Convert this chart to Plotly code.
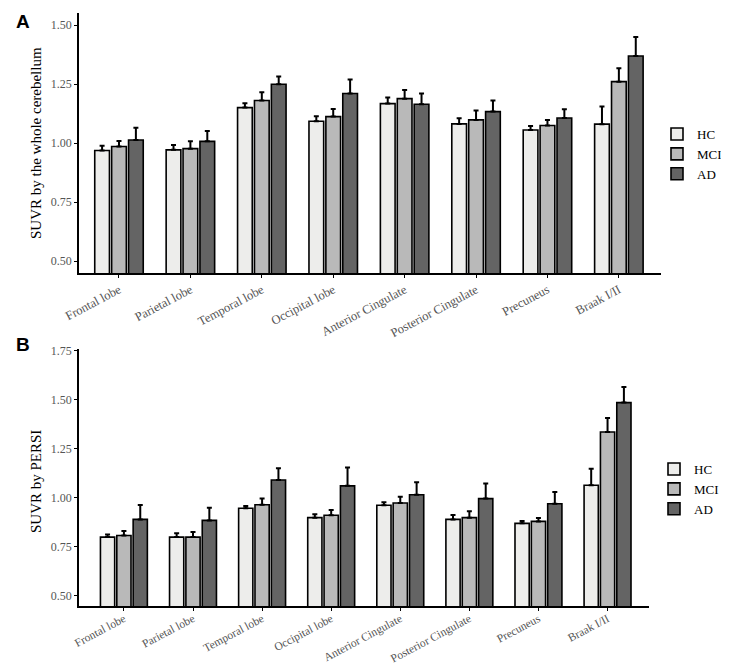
import plotly.graph_objects as go

categories = ["Frontal lobe", "Parietal lobe", "Temporal lobe", "Occipital lobe",
              "Anterior Cingulate", "Posterior Cingulate", "Precuneus", "Braak I/II"]
groups = ["HC", "MCI", "AD"]

# Panel A: SUVR by the whole cerebellum (mean, upper SE)
hc_a = [0.969, 0.972, 1.151, 1.093, 1.168, 1.082, 1.056, 1.081]
mci_a = [0.986, 0.977, 1.181, 1.113, 1.189, 1.099, 1.075, 1.261]
ad_a = [1.014, 1.008, 1.250, 1.211, 1.165, 1.134, 1.107, 1.370]
hc_a_err = [0.020, 0.021, 0.018, 0.021, 0.026, 0.024, 0.017, 0.075]
mci_a_err = [0.024, 0.031, 0.035, 0.032, 0.037, 0.040, 0.024, 0.057]
ad_a_err = [0.052, 0.044, 0.033, 0.059, 0.046, 0.047, 0.037, 0.080]

# Panel B: SUVR by PERSI
hc_b = [0.799, 0.799, 0.946, 0.898, 0.961, 0.889, 0.869, 1.063]
mci_b = [0.807, 0.799, 0.964, 0.910, 0.973, 0.898, 0.879, 1.334]
ad_b = [0.889, 0.884, 1.090, 1.060, 1.015, 0.995, 0.969, 1.484]
hc_b_err = [0.013, 0.019, 0.011, 0.017, 0.015, 0.023, 0.012, 0.084]
mci_b_err = [0.023, 0.026, 0.031, 0.027, 0.031, 0.032, 0.017, 0.071]
ad_b_err = [0.074, 0.065, 0.060, 0.093, 0.063, 0.077, 0.060, 0.080]

ticks_a = [0.50, 0.75, 1.00, 1.25, 1.50]
ticks_b = [0.50, 0.75, 1.00, 1.25, 1.50, 1.75]

colors = {"HC": "#EDEDEB", "MCI": "#B9B9B9", "AD": "#646464"}

W, H = 729, 665
SERIF = "Liberation Serif, Times New Roman, serif"

fig = go.Figure()

def add_panel(vals, errs, xa, ya, legend):
    for g, v, e in zip(groups, vals, errs):
        fig.add_trace(go.Bar(
            x=list(range(len(categories))), y=v, name=g,
            xaxis=xa, yaxis=ya, legend=legend,
            marker=dict(color=colors[g], line=dict(color="black", width=1.6)),
            error_y=dict(type="data", array=e, arrayminus=[0] * len(e), symmetric=False,
                         color="black", thickness=2, width=2.5),
        ))

add_panel([hc_a, mci_a, ad_a], [hc_a_err, mci_a_err, ad_a_err], "x", "y", "legend")
add_panel([hc_b, mci_b, ad_b], [hc_b_err, mci_b_err, ad_b_err], "x2", "y2", "legend2")

def px_x(p):
    return p / W

def px_y(p):
    return 1 - p / H

xcommon = dict(
    tickmode="array", tickvals=list(range(len(categories))), ticktext=categories,
    tickangle=-28,
    showline=True, linecolor="black", linewidth=1.6, ticks="outside", ticklen=3,
    tickcolor="black", tickwidth=1.2, showgrid=False, zeroline=False, automargin=False,
)
ycommon = dict(
    tickformat=".2f", tickfont=dict(family=SERIF, size=12, color="#555555"),
    showline=True, linecolor="black", linewidth=1.6, ticks="outside", ticklen=3,
    tickcolor="black", tickwidth=1.2, showgrid=False, zeroline=False, automargin=False,
)

def ann(text, x, y, size, angle=0, bold=False, family=SERIF):
    return dict(text=f"<b>{text}</b>" if bold else text, x=px_x(x), y=px_y(y),
                xref="paper", yref="paper", xanchor="center", yanchor="middle",
                showarrow=False, textangle=angle,
                font=dict(family=family, size=size, color="black"))

fig.update_layout(
    width=W, height=H,
    margin=dict(l=0, r=0, t=0, b=0, autoexpand=False),
    paper_bgcolor="white", plot_bgcolor="white",
    barmode="group", bargap=0.29, bargroupgap=0.13,
    xaxis=dict(domain=[px_x(71), px_x(653)], range=[-0.56, 7.59], anchor="y",
               tickfont=dict(family=SERIF, size=12.5, color="#555555"), **xcommon),
    yaxis=dict(domain=[px_y(265), px_y(5)], range=[0.45, 1.552], anchor="x",
               tickvals=ticks_a, **ycommon),
    xaxis2=dict(domain=[px_x(71), px_x(641)], range=[-0.65, 7.6], anchor="y2",
                ticklabelstandoff=-3,
                tickfont=dict(family=SERIF, size=11.5, color="#555555"), **xcommon),
    yaxis2=dict(domain=[px_y(598), px_y(341)], range=[0.448, 1.757], anchor="x2",
                tickvals=ticks_b, **ycommon),
    legend=dict(x=px_x(649), y=px_y(146), xanchor="left", yanchor="middle",
                font=dict(family=SERIF, size=13, color="black"), tracegroupgap=0,
                itemwidth=30),
    legend2=dict(x=px_x(646), y=px_y(481), xanchor="left", yanchor="middle",
                 font=dict(family=SERIF, size=13, color="black"), tracegroupgap=0,
                 itemwidth=30),
    annotations=[
        ann("SUVR by the whole cerebellum", 28, 135, 15, angle=-90),
        ann("SUVR by PERSI", 28, 474, 15, angle=-90),
        ann("A", 15, 14, 19, bold=True, family="Liberation Sans, Arial"),
        ann("B", 15, 336, 19, bold=True, family="Liberation Sans, Arial"),
    ],
)

fig.write_html("out.html")
